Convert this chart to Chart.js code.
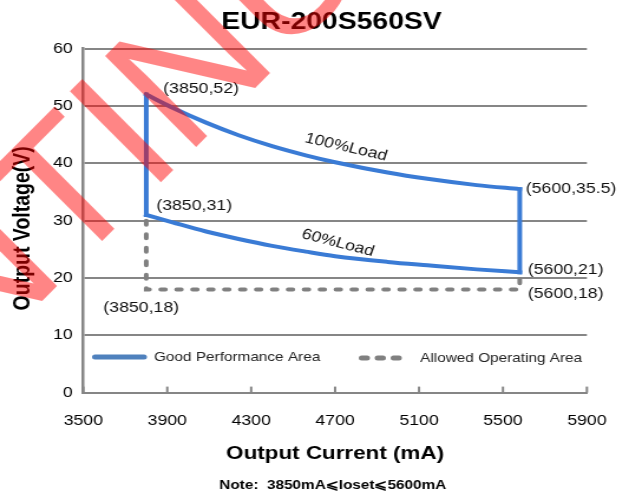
<!DOCTYPE html>
<html>
<head>
<meta charset="utf-8">
<script src="https://cdn.jsdelivr.net/npm/chart.js@4.4.1/dist/chart.umd.min.js"></script>
<style>
html, body { margin: 0; padding: 0; background: #fff; overflow: hidden; }
</style>
</head>
<body>
<canvas id="grafico_curva" width="533" height="493" style="width:629px;height:493px;display:block"></canvas>
<script>
// eixos
var correnteTicks = [3500, 3900, 4300, 4700, 5100, 5500, 5900];
var tensaoTicks = [0, 10, 20, 30, 40, 50, 60];

// curva 100% carga e 60% carga
var corrente100 = [3800, 3925, 4085, 4240, 4400, 4560, 4700, 4950, 5140, 5375, 5580];
var tensao100 = [52, 49.7, 47.1, 44.9, 43.0, 41.4, 40.2, 38.4, 37.3, 36.2, 35.5];
var corrente60 = [3800, 3925, 4085, 4240, 4400, 4560, 4700, 4950, 5140, 5375, 5580];
var tensao60 = [31, 29.7, 28.1, 26.8, 25.6, 24.6, 23.8, 22.8, 22.2, 21.5, 21];

// area de operacao permitida (tracejada)
var correnteLimite = [3800, 3800, 5580, 5580];
var tensaoLimite = [30, 18, 18, 21];

// rotulos dos pontos
var pontosTexto = ['(3850,52)', '(3850,31)', '(3850,18)', '(5600,35.5)', '(5600,21)', '(5600,18)'];
var pontosCorrente = [3800, 3800, 3800, 5580, 5580, 5580];
var pontosTensao = [52, 31, 18, 35.5, 21, 18];

var cargaTexto = ['100%Load', '60%Load'];
var cargaCorrente = [4752, 4713];
var cargaTensao = [42.8, 26.1];

var nomesSeries = ['Good Performance Area', 'Allowed Operating Area'];

var SX = 629 / 533; // a figura original esta esticada na horizontal

function juntar(xs, ys) {
    var r = [];
    for (var i = 0; i < xs.length; i++) {
        r.push({x: xs[i], y: ys[i]});
    }
    return r;
}

var n = corrente100.length - 1;
var ladoEsq = [{x: corrente60[0], y: tensao60[0]}, {x: corrente100[0], y: tensao100[0]}];
var ladoDir = [{x: corrente100[n], y: tensao100[n]}, {x: corrente60[n], y: tensao60[n]}];

var desloc = [[14.4, -6], [8.5, -9], [-36.4, 18], [5.1, 0], [6.8, -2], [6.8, 4]];
var giro = [15.1, 16.8];

function linhaAzul(label, dados) {
    return {
        label: label,
        data: dados,
        showLine: true,
        borderColor: '#3a7bd5',
        borderWidth: 4,
        borderCapStyle: 'square',
        pointRadius: 0,
        cubicInterpolationMode: 'monotone',
        fill: false
    };
}

var textos = {
    id: 'textos',
    afterDraw: function (chart) {
        var ctx = chart.ctx;
        var sx = chart.scales.x, sy = chart.scales.y;
        var area = chart.chartArea;

        ctx.save();
        // marcas do eixo x para dentro
        ctx.strokeStyle = '#868686';
        ctx.lineWidth = 2;
        correnteTicks.forEach(function (v) {
            var px = sx.getPixelForValue(v);
            ctx.beginPath();
            ctx.moveTo(px, area.bottom);
            ctx.lineTo(px, area.bottom - 6);
            ctx.stroke();
        });

        ctx.fillStyle = '#000';
        ctx.textAlign = 'center';
        ctx.textBaseline = 'middle';
        ctx.font = 'bold 24px Arial';
        ctx.fillText('EUR-200S560SV', 280.9, 22);

        ctx.font = 'bold 13px Arial';
        ctx.fillText('Note:  3850mA\u2A7DIoset\u2A7D5600mA', 282, 485);

        ctx.save();
        ctx.translate(19.8, 228.3);
        ctx.rotate(-Math.PI / 2);
        ctx.font = 'bold 19.5px Arial';
        ctx.fillText('Output Voltage(V)', 0, 0);
        ctx.restore();

        // rotulos dos pontos
        ctx.font = '15px Arial';
        ctx.fillStyle = '#111';
        ctx.textAlign = 'left';
        for (var i = 0; i < pontosTexto.length; i++) {
            var px = sx.getPixelForValue(pontosCorrente[i]) + desloc[i][0];
            var py = sy.getPixelForValue(pontosTensao[i]) + desloc[i][1];
            ctx.fillText(pontosTexto[i], px, py);
        }

        ctx.textAlign = 'center';
        for (var i = 0; i < cargaTexto.length; i++) {
            ctx.save();
            ctx.translate(sx.getPixelForValue(cargaCorrente[i]), sy.getPixelForValue(cargaTensao[i]));
            ctx.rotate(giro[i] * Math.PI / 180);
            ctx.fillText(cargaTexto[i], 0, 0);
            ctx.restore();
        }

        // legenda dentro da area
        var ly = 357;
        ctx.lineCap = 'round';
        ctx.lineWidth = 5;
        ctx.strokeStyle = '#4f81bd';
        ctx.beginPath();
        ctx.moveTo(80.5, ly);
        ctx.lineTo(122, ly);
        ctx.stroke();
        ctx.strokeStyle = '#808080';
        ctx.setLineDash([4.5, 9]);
        ctx.beginPath();
        ctx.moveTo(306.5, ly + 1);
        ctx.lineTo(339, ly + 1);
        ctx.stroke();
        ctx.setLineDash([]);
        ctx.font = '13px Arial';
        ctx.fillStyle = '#222';
        ctx.textAlign = 'left';
        ctx.fillText(nomesSeries[0], 130.5, ly);
        ctx.fillText(nomesSeries[1], 356, ly + 1);
        ctx.restore();

        // marca d'agua vermelha
        ctx.save();
        ctx.scale(1 / SX, 1);
        var fs = 187;
        ctx.font = fs + 'px "Liberation Sans", Arial, sans-serif';
        var d = ctx.measureText('DISCONT').width + 0.139 * fs;
        ctx.translate(167 - d * Math.SQRT1_2, 176 + d * Math.SQRT1_2);
        ctx.rotate(-Math.PI / 4);
        ctx.fillStyle = 'rgba(255, 0, 0, 0.48)';
        ctx.textAlign = 'left';
        ctx.textBaseline = 'alphabetic';
        ctx.fillText('DISCONTINUED', 0, 0);
        ctx.restore();
    }
};

const grafico = document.getElementById('grafico_curva').getContext('2d');

new Chart(grafico, {
    type: 'scatter',
    data: {
        datasets: [
            linhaAzul(nomesSeries[0], juntar(corrente100, tensao100)),
            linhaAzul('', juntar(corrente60, tensao60)),
            linhaAzul('', ladoEsq),
            linhaAzul('', ladoDir),
            {
                label: nomesSeries[1],
                data: juntar(correnteLimite, tensaoLimite),
                showLine: true,
                borderColor: '#808080',
                borderWidth: 4,
                borderDash: [4, 9.5],
                borderCapStyle: 'round',
                pointRadius: 0,
                tension: 0,
                fill: false
            }
        ]
    },
    options: {
        responsive: false,
        animation: false,
        devicePixelRatio: 1,
        events: [],
        layout: {
            padding: { top: 48.7, right: 32.2, bottom: 0, left: 0 }
        },
        plugins: {
            legend: { display: false },
            tooltip: { enabled: false },
            title: { display: false }
        },
        scales: {
            x: {
                type: 'linear',
                min: 3500,
                max: 5900,
                afterBuildTicks: function (s) {
                    s.ticks = correnteTicks.map(function (v) { return {value: v}; });
                },
                afterFit: function (s) { s.height = 100.4; },
                grid: { display: false, drawTicks: false },
                border: { display: true, color: '#868686', width: 2 },
                ticks: {
                    padding: 19,
                    color: '#000',
                    autoSkip: false,
                    maxRotation: 0,
                    font: { family: 'Arial', size: 15 },
                    callback: function (v) { return String(v); }
                },
                title: {
                    display: true,
                    text: 'Output Current (mA)',
                    color: '#000',
                    font: { family: 'Arial', size: 19, weight: 'bold' },
                    padding: { top: 0, bottom: 27.6 }
                }
            },
            y: {
                min: 0,
                max: 60,
                afterBuildTicks: function (s) {
                    s.ticks = tensaoTicks.map(function (v) { return {value: v}; });
                },
                afterFit: function (s) { s.width = 70.6; },
                grid: { color: '#868686', lineWidth: 2, drawTicks: false },
                border: { display: true, color: '#868686', width: 2.5 },
                ticks: {
                    padding: 9,
                    color: '#000',
                    font: { family: 'Arial', size: 15 },
                    callback: function (v) { return String(v); }
                }
            }
        }
    },
    plugins: [textos]
});
</script>
</body>
</html>
